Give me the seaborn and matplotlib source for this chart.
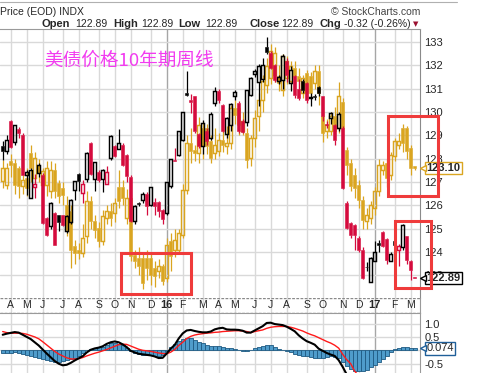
import numpy as np
import pandas as pd
import matplotlib
matplotlib.use("Agg")
import matplotlib.pyplot as plt
from matplotlib.patches import Rectangle
import seaborn as sns

# weekly bars, dated by the Monday that starts the week
weeks = pd.date_range("2015-03-23", periods=104, freq="W-MON")

# main series (black / red candles)
main_open = [128.53, 128.31, 129.60, 128.71, 129.27, 129.03, 127.30, 126.31, 126.77, 127.39,
             127.31, 125.46, 125.10, 125.67, 125.57, 125.57, 124.91, 125.29, 126.67, 127.34,
             126.53, 127.14, 128.67, 127.14, 127.43, 127.14, 126.93, 128.03, 128.53, 128.43,
             128.60, 128.14, 127.20, 125.31, 126.10, 126.21, 126.50, 126.03, 126.14, 126.14,
             125.81, 125.67, 126.81, 127.95, 128.17, 128.81, 130.80, 130.50, 130.67, 129.06,
             128.56, 129.20, 128.90, 130.39, 130.91, 130.31, 129.06, 129.46, 130.67, 130.39,
             129.60, 129.57, 130.74, 131.63, 131.29, 131.40, 132.77, 132.53, 132.00, 131.31,
             131.39, 132.20, 131.24, 131.53, 131.00, 131.31, 131.24, 130.60, 130.70, 131.06,
             130.67, 129.50, 129.74, 129.46, 129.31, 129.31, 126.10, 125.24, 125.17, 124.60,
             124.10, 123.37, 122.71, 123.63, 124.39, 124.86, 124.57, 123.63, 124.46, 124.10,
             124.20, 124.67, 123.60, 122.89]
main_high = [128.75, 129.03, 129.65, 129.45, 129.35, 129.10, 127.50, 127.60, 127.35, 127.80,
             127.40, 125.50, 126.15, 125.70, 125.60, 125.60, 125.60, 126.25, 127.05, 127.40,
             127.10, 128.30, 128.70, 127.85, 127.50, 127.55, 127.70, 129.00, 128.60, 129.27,
             128.65, 128.20, 127.30, 126.00, 126.15, 126.55, 126.55, 126.80, 126.30, 126.20,
             125.85, 127.00, 128.00, 128.45, 129.20, 130.00, 131.74, 130.75, 130.70, 129.10,
             129.65, 129.30, 130.00, 131.05, 131.00, 130.35, 129.80, 130.40, 130.95, 130.45,
             129.70, 130.95, 131.50, 131.85, 132.05, 132.30, 133.20, 132.60, 132.05, 131.60,
             132.50, 132.30, 131.95, 131.60, 131.40, 131.40, 131.30, 130.81, 130.75, 131.10,
             130.70, 129.60, 130.00, 129.50, 130.00, 129.40, 126.20, 125.30, 125.20, 124.70,
             124.20, 123.55, 123.80, 124.45, 124.50, 124.90, 124.60, 124.00, 124.50, 124.35,
             125.20, 124.70, 123.65, 122.89]
main_low = [127.96, 128.20, 128.45, 128.60, 128.90, 127.30, 126.45, 126.30, 126.30, 127.20,
            125.20, 124.70, 125.00, 124.30, 124.90, 125.10, 124.80, 125.20, 126.24, 126.60,
            126.10, 127.00, 127.30, 126.60, 127.00, 126.55, 126.90, 127.95, 128.05, 128.40,
            127.70, 127.00, 125.30, 125.20, 125.95, 126.10, 125.60, 125.95, 125.60, 125.50,
            125.20, 125.60, 126.75, 127.90, 128.10, 128.75, 130.70, 129.95, 129.10, 128.45,
            128.20, 128.60, 128.80, 130.24, 130.40, 129.15, 128.90, 129.20, 130.50, 129.10,
            129.10, 129.40, 130.70, 131.50, 130.24, 131.30, 132.50, 131.85, 131.30, 131.20,
            131.00, 131.30, 130.90, 130.60, 130.50, 130.80, 130.40, 130.24, 130.50, 130.70,
            129.60, 129.30, 129.50, 128.60, 129.20, 126.70, 125.00, 124.60, 124.10, 124.00,
            122.85, 123.20, 122.70, 123.60, 124.00, 124.20, 123.50, 123.60, 124.20, 123.40,
            124.10, 123.50, 122.80, 122.89]
main_close = [128.31, 128.81, 128.49, 129.43, 129.10, 127.31, 127.43, 127.53, 126.91, 127.74,
              125.24, 124.74, 126.10, 124.31, 125.29, 125.17, 125.53, 126.21, 127.03, 127.05,
              126.91, 128.26, 127.34, 127.84, 127.07, 127.53, 127.43, 128.99, 128.10, 128.67,
              127.74, 127.27, 125.31, 125.96, 126.05, 126.50, 125.96, 126.77, 125.96, 125.77,
              125.43, 127.00, 128.00, 127.92, 129.17, 130.00, 130.74, 130.43, 129.17, 128.53,
              129.54, 128.74, 129.90, 130.89, 130.53, 129.20, 129.74, 130.34, 130.84, 129.20,
              129.15, 130.93, 131.46, 131.77, 131.99, 132.00, 132.57, 131.90, 131.39, 131.49,
              132.39, 131.60, 131.81, 130.74, 130.60, 130.96, 130.53, 130.63, 130.65, 130.81,
              129.81, 129.46, 129.96, 128.81, 129.91, 126.74, 125.03, 124.74, 124.72, 124.10,
              122.89, 123.35, 123.74, 124.00, 124.29, 124.25, 123.67, 123.91, 124.31, 124.24,
              125.17, 123.67, 123.21, 122.89]

# overlay series (gold candles)
gold_open = [127.03, 126.89, 127.91, 127.81, 127.60, 126.81, 127.17, 128.24, 127.17, 127.74,
             126.89, 126.89, 126.60, 127.53, 126.96, 126.74, 126.03, 125.74, 124.24, 124.10,
             123.96, 124.67, 126.20, 125.31, 125.03, 124.46, 125.46, 125.74, 125.67, 126.77,
             126.77, 125.46, 126.31, 123.89, 123.74, 123.74, 123.74, 123.74, 123.31, 123.17,
             123.39, 122.89, 124.46, 124.10, 124.10, 124.74, 126.67, 128.67, 128.39, 128.24,
             129.31, 129.31, 128.74, 128.24, 128.31, 128.81, 128.53, 128.67, 130.17, 130.17,
             129.17, 129.10, 128.03, 128.89, 129.81, 130.53, 131.17, 131.46, 131.60, 131.53,
             130.96, 131.46, 131.31, 131.89, 131.53, 130.81, 131.67, 131.53, 131.24, 131.74,
             129.81, 129.17, 129.17, 129.81, 129.31, 130.43, 128.39, 127.81, 127.31, 126.89,
             126.24, 125.31, 125.46, 125.89, 126.60, 127.53, 127.81, 127.31, 128.10, 128.60,
             129.31, 129.31, 128.46, 127.67]
gold_high = [127.96, 127.80, 128.20, 128.00, 127.70, 127.30, 127.60, 128.60, 128.30, 128.00,
             127.60, 127.90, 127.90, 127.80, 127.10, 127.00, 126.40, 126.00, 124.50, 124.40,
             125.20, 126.60, 126.40, 125.60, 125.30, 125.80, 126.00, 126.10, 126.30, 127.50,
             127.10, 126.70, 126.50, 124.10, 124.20, 124.00, 124.10, 123.90, 123.60, 123.70,
             123.50, 124.60, 124.80, 125.00, 125.00, 126.90, 129.00, 129.30, 128.60, 129.80,
             129.60, 129.50, 129.00, 129.30, 129.10, 129.20, 129.40, 130.30, 130.50, 130.30,
             130.00, 129.30, 129.00, 130.10, 130.80, 131.60, 132.30, 132.90, 132.80, 132.00,
             132.50, 132.40, 132.20, 132.20, 131.90, 131.60, 131.80, 131.70, 132.00, 132.00,
             130.20, 129.70, 130.00, 130.20, 131.30, 130.60, 128.50, 128.00, 127.60, 127.10,
             126.40, 125.90, 126.20, 126.80, 128.00, 127.90, 128.00, 128.30, 128.90, 129.10,
             129.50, 129.40, 128.60, 127.70]
gold_low = [126.74, 126.70, 127.20, 126.50, 126.30, 126.50, 126.40, 127.00, 126.90, 127.00,
            126.50, 126.40, 126.30, 126.30, 126.10, 126.00, 124.70, 123.30, 123.50, 123.70,
            123.80, 124.40, 125.00, 124.60, 124.20, 124.30, 125.20, 125.10, 125.30, 125.90,
            126.00, 125.20, 123.60, 123.30, 123.00, 122.40, 122.80, 122.60, 122.50, 122.90,
            122.60, 122.70, 123.20, 123.80, 124.00, 124.60, 126.50, 127.80, 127.90, 127.80,
            128.00, 128.20, 127.80, 128.00, 128.10, 128.30, 128.20, 128.40, 129.50, 129.00,
            129.00, 127.60, 127.70, 128.50, 129.20, 130.00, 130.80, 131.20, 131.30, 130.90,
            130.70, 131.20, 131.00, 131.20, 131.00, 130.60, 130.50, 130.60, 131.00, 130.30,
            128.70, 128.90, 129.00, 129.00, 129.10, 128.90, 127.30, 126.60, 126.30, 125.90,
            125.00, 125.00, 125.20, 125.60, 126.40, 127.30, 126.80, 127.10, 127.90, 128.40,
            128.30, 128.00, 127.30, 127.50]
gold_close = [127.60, 127.60, 127.71, 126.89, 126.81, 127.10, 126.74, 127.60, 128.03, 127.39,
              127.46, 127.60, 127.53, 126.60, 126.39, 126.46, 124.96, 124.10, 123.96, 123.96,
              124.60, 126.20, 125.31, 124.96, 124.46, 125.53, 125.77, 125.46, 126.10, 126.17,
              126.31, 126.31, 123.81, 123.60, 123.39, 122.67, 123.31, 123.03, 122.96, 123.39,
              122.74, 124.31, 123.81, 124.53, 124.81, 126.67, 128.67, 128.31, 128.24, 129.46,
              128.53, 128.53, 128.03, 128.60, 128.81, 128.60, 128.67, 130.17, 129.89, 129.46,
              129.60, 127.96, 128.89, 129.74, 130.53, 131.31, 131.96, 132.60, 132.53, 131.24,
              132.39, 132.17, 131.96, 131.53, 131.31, 131.46, 130.81, 130.81, 131.74, 130.81,
              129.10, 129.46, 129.81, 129.17, 130.67, 129.31, 127.74, 126.81, 126.74, 126.24,
              125.39, 125.60, 126.03, 126.60, 127.74, 127.74, 127.17, 128.17, 128.74, 128.74,
              128.67, 128.31, 127.60, 127.60]

# MACD panel (line, signal, histogram)
macd_line = [0.58, 0.62, 0.65, 0.68, 0.66, 0.58, 0.50, 0.42, 0.30, 0.18,
             0.03, -0.12, -0.26, -0.40, -0.50, -0.56, -0.54, -0.47, -0.38, -0.30,
             -0.22, -0.08, 0.02, 0.07, 0.10, 0.15, 0.24, 0.30, 0.33, 0.30,
             0.22, 0.12, -0.02, -0.08, -0.13, -0.15, -0.17, -0.19, -0.23, -0.29,
             -0.28, -0.12, 0.06, 0.20, 0.44, 0.63, 0.74, 0.76, 0.72, 0.69,
             0.67, 0.67, 0.70, 0.78, 0.82, 0.84, 0.78, 0.77, 0.77, 0.76,
             0.73, 0.66, 0.66, 0.74, 0.82, 0.90, 1.02, 1.03, 0.98, 0.96,
             0.94, 0.88, 0.80, 0.71, 0.56, 0.44, 0.34, 0.28, 0.21, 0.06,
             -0.02, -0.10, -0.16, -0.21, -0.37, -0.62, -0.90, -1.10, -1.25, -1.38,
             -1.50, -1.55, -1.55, -1.52, -1.48, -1.42, -1.38, -1.33, -1.28, -1.22,
             -1.15, -1.13, -1.14, -1.15]
macd_signal = [0.70, 0.66, 0.64, 0.64, 0.64, 0.63, 0.60, 0.55, 0.50, 0.43,
               0.32, 0.20, 0.08, -0.04, -0.14, -0.21, -0.28, -0.32, -0.33, -0.31,
               -0.27, -0.21, -0.16, -0.11, -0.07, -0.02, 0.03, 0.09, 0.15, 0.21,
               0.23, 0.22, 0.16, 0.10, 0.04, 0.00, -0.02, -0.04, -0.07, -0.10,
               -0.12, -0.13, -0.07, 0.03, 0.18, 0.30, 0.44, 0.52, 0.57, 0.60,
               0.62, 0.64, 0.65, 0.67, 0.68, 0.70, 0.71, 0.72, 0.73, 0.73,
               0.72, 0.70, 0.66, 0.70, 0.73, 0.76, 0.82, 0.86, 0.88, 0.89,
               0.89, 0.89, 0.86, 0.82, 0.77, 0.72, 0.65, 0.59, 0.54, 0.47,
               0.40, 0.33, 0.27, 0.19, 0.08, -0.15, -0.35, -0.50, -0.78, -0.95,
               -1.10, -1.20, -1.28, -1.33, -1.36, -1.38, -1.38, -1.36, -1.33, -1.30,
               -1.27, -1.25, -1.22, -1.22]
macd_hist = [-0.10, -0.10, -0.09, -0.08, -0.10, -0.14, -0.17, -0.20, -0.24, -0.28,
             -0.33, -0.37, -0.41, -0.42, -0.42, -0.41, -0.38, -0.34, -0.28, -0.20,
             -0.10, 0.00, 0.05, 0.08, 0.11, 0.14, 0.20, 0.26, 0.29, 0.25,
             0.18, 0.08, -0.04, -0.10, -0.13, -0.16, -0.17, -0.18, -0.20, -0.21,
             -0.16, -0.02, 0.12, 0.25, 0.36, 0.44, 0.46, 0.46, 0.40, 0.32,
             0.26, 0.19, 0.15, 0.15, 0.17, 0.14, 0.10, 0.07, 0.04, 0.02,
             -0.03, -0.03, 0.01, 0.07, 0.13, 0.17, 0.20, 0.18, 0.12, 0.05,
             0.01, -0.02, -0.07, -0.12, -0.16, -0.21, -0.23, -0.25, -0.27, -0.29,
             -0.28, -0.25, -0.22, -0.24, -0.29, -0.45, -0.60, -0.70, -0.76, -0.79,
             -0.79, -0.73, -0.64, -0.54, -0.44, -0.33, -0.20, -0.08, 0.03, 0.10,
             0.14, 0.12, 0.08, 0.074]

price_ticks = list(range(123, 134))
last_main = "122.89"
last_gold = "123.10"
last_hist = "0.074"
title = "美债价格10年期周线"

RED = "#d50b3d"
GOLD = "#daa520"
GRID = "#d9d9d9"
W, H = 484, 373


def fx(px):
    return px / W


def fy(py):
    return 1 - py / H


sns.set_style("white")
plt.rcParams["font.family"] = ["Liberation Sans", "Noto Sans CJK SC", "DejaVu Sans"]

x = np.arange(len(weeks))
xlim = (-0.675, len(weeks) + 0.325)
month_idx = [i for i in range(1, len(weeks)) if weeks[i].month != weeks[i - 1].month]

fig = plt.figure(figsize=(W / 100, H / 100), dpi=100)
ax = fig.add_axes([0, fy(298), fx(420), (298 - 29) / H])
ax_d = fig.add_axes([0, fy(313), fx(420), 15 / H])
ax_m = fig.add_axes([0, fy(392), fx(420), (392 - 313) / H])

for a in (ax, ax_d, ax_m):
    a.set_xlim(*xlim)
    a.set_xticks([])
    for s in ("left", "bottom", "top", "right"):
        a.spines[s].set_visible(False)
    for i in month_idx:
        jan = weeks[i].month == 1
        a.axvline(i, color="#a6a6a6" if jan else GRID, lw=1.0, zorder=0)


def candles(a, o, h, l, c, cols, z):
    o, h, l, c = map(np.asarray, (o, h, l, c))
    top = np.maximum(o, c)
    bot = np.minimum(o, c)
    a.vlines(x, top, h, colors=cols, lw=0.9, zorder=z)
    a.vlines(x, l, bot, colors=cols, lw=0.9, zorder=z)
    hgt = np.maximum(top - bot, 0.02)
    up = c > o
    cols = np.asarray(cols)
    a.bar(x[up], hgt[up], bottom=bot[up], width=0.78, facecolor="none",
          edgecolor=cols[up], lw=1.05, zorder=z)
    a.bar(x[~up], hgt[~up], bottom=bot[~up], width=0.78, color=cols[~up],
          edgecolor=cols[~up], lw=0.4, zorder=z)


# price panel
ax.set_ylim(122.027, 133.557)
ax.set_yticks(price_ticks)
ax.yaxis.tick_right()
ax.tick_params(axis="y", length=0, pad=3, labelsize=8, labelright=True, labelleft=False)
ax.grid(axis="y", color=GRID, lw=1.0)
ax.set_axisbelow(True)
ax.spines["top"].set_visible(True)
ax.spines["top"].set_color("#9a9a9a")
ax.spines["right"].set_visible(True)
ax.spines["right"].set_color("#8a8a8a")
ax.spines["right"].set_linestyle((0, (2, 1)))

candles(ax, gold_open, gold_high, gold_low, gold_close, [GOLD] * len(x), 2)
mc = np.asarray(main_close)
prev = np.r_[mc[0], mc[:-1]]
main_cols = np.where(mc >= prev, "black", RED)
candles(ax, main_open, main_high, main_low, main_close, main_cols, 3)


def side_label(a, y, s, edge, bold=True):
    tr = a.get_yaxis_transform()
    a.text(1.015, y, s, transform=tr, ha="left", va="center", fontsize=8,
           fontweight="bold" if bold else "normal", zorder=10, clip_on=False,
           bbox=dict(boxstyle="square,pad=0.12", fc="white", ec=edge, lw=1.0))
    a.plot([1.007], [y], marker="<", ms=5, mfc="white", mec=edge, mew=1.0,
           transform=tr, clip_on=False, zorder=11)


side_label(ax, gold_close[-1], last_gold, GOLD)
side_label(ax, main_close[-1], last_main, "black")

# date strip
ax_d.set_ylim(0, 1)
ax_d.set_yticks([])
ax_d.axhline(0.97, color="#8a8a8a", lw=1.0, ls=(0, (2, 1)))
ax_d.axhline(0.03, color="#8a8a8a", lw=1.0, ls=(0, (2, 1)))
ax_d.spines["right"].set_visible(True)
ax_d.spines["right"].set_color("#9a9a9a")
for i in month_idx:
    d = weeks[i]
    if d.month == 1:
        ax_d.text(i, 0.5, d.strftime("%y"), ha="center", va="center",
                  fontsize=8, fontweight="bold")
    else:
        ax_d.text(i, 0.5, d.strftime("%b")[0], ha="center", va="center", fontsize=7.5)

# MACD panel
ax_m.set_ylim(-1.556, 1.392)
ax_m.bar(x, macd_hist, width=1.0, color="#4f9ccb", edgecolor="#1e5a82", lw=0.6, zorder=2)
sns.lineplot(x=x, y=macd_signal, color="#ff1a1a", lw=1.0, ax=ax_m, zorder=3)
sns.lineplot(x=x, y=macd_line, color="black", lw=1.5, ax=ax_m, zorder=4)
ax_m.set_yticks([-1.0, -0.5, 0.0, 0.5, 1.0])
ax_m.set_yticklabels(["", "-0.5", "", "0.5", "1.0"])
ax_m.yaxis.tick_right()
ax_m.tick_params(axis="y", length=0, pad=3, labelsize=8, labelright=True, labelleft=False)
ax_m.grid(axis="y", color=GRID, lw=1.0)
ax_m.set_axisbelow(True)
ax_m.set_xlabel("")
ax_m.set_ylabel("")
ax_m.spines["right"].set_visible(True)
ax_m.spines["right"].set_color("#9a9a9a")
ax_m.spines["top"].set_visible(True)
ax_m.spines["top"].set_color("#9a9a9a")
side_label(ax_m, macd_hist[-1], last_hist, "#1f5f99", bold=False)

# header
fig.add_artist(plt.Line2D([0, fx(457)], [fy(1.5), fy(1.5)], color="#b0b0b0", lw=0.8))
fig.text(fx(0), fy(12), "Price (EOD) INDX", fontsize=7.5, va="center", ha="left")
fig.text(fx(331), fy(12), "© StockCharts.com", fontsize=7.5, va="center", ha="left",
         color="#444444")
head = [(42, "Open", True), (75, "122.89", False), (113, "High", True), (141, "122.89", False),
        (178, "Low", True), (205, "122.89", False), (250, "Close", True), (281, "122.89", False),
        (319, "Chg", True), (344, "-0.32 (-0.26%)", False)]
for px, s, b in head:
    fig.text(fx(px), fy(24), s, fontsize=8 if b else 7.5, fontweight="bold" if b else "normal",
             va="center", ha="left")
fig.text(fx(413), fy(24), "▼", fontsize=5, color="#9b1030", va="center", ha="left",
         family="DejaVu Sans")

# title
fig.text(fx(44), fy(61), title, fontsize=13.4, color="#f23cf0", va="center", ha="left",
         family=["Noto Sans CJK SC", "DejaVu Sans"])

# red highlight boxes
for x0, y0, x1, y1 in [(121.3, 252.8, 190.8, 294.2), (387.5, 115.8, 438.3, 195.8),
                       (395.3, 220.5, 430.5, 287.5)]:
    fig.add_artist(Rectangle((fx(x0), fy(y1)), fx(x1 - x0), (y1 - y0) / H,
                             transform=fig.transFigure, fill=False, ec="#ef3b3b", lw=2.2,
                             zorder=20))

fig.savefig("out.png", dpi=100)
